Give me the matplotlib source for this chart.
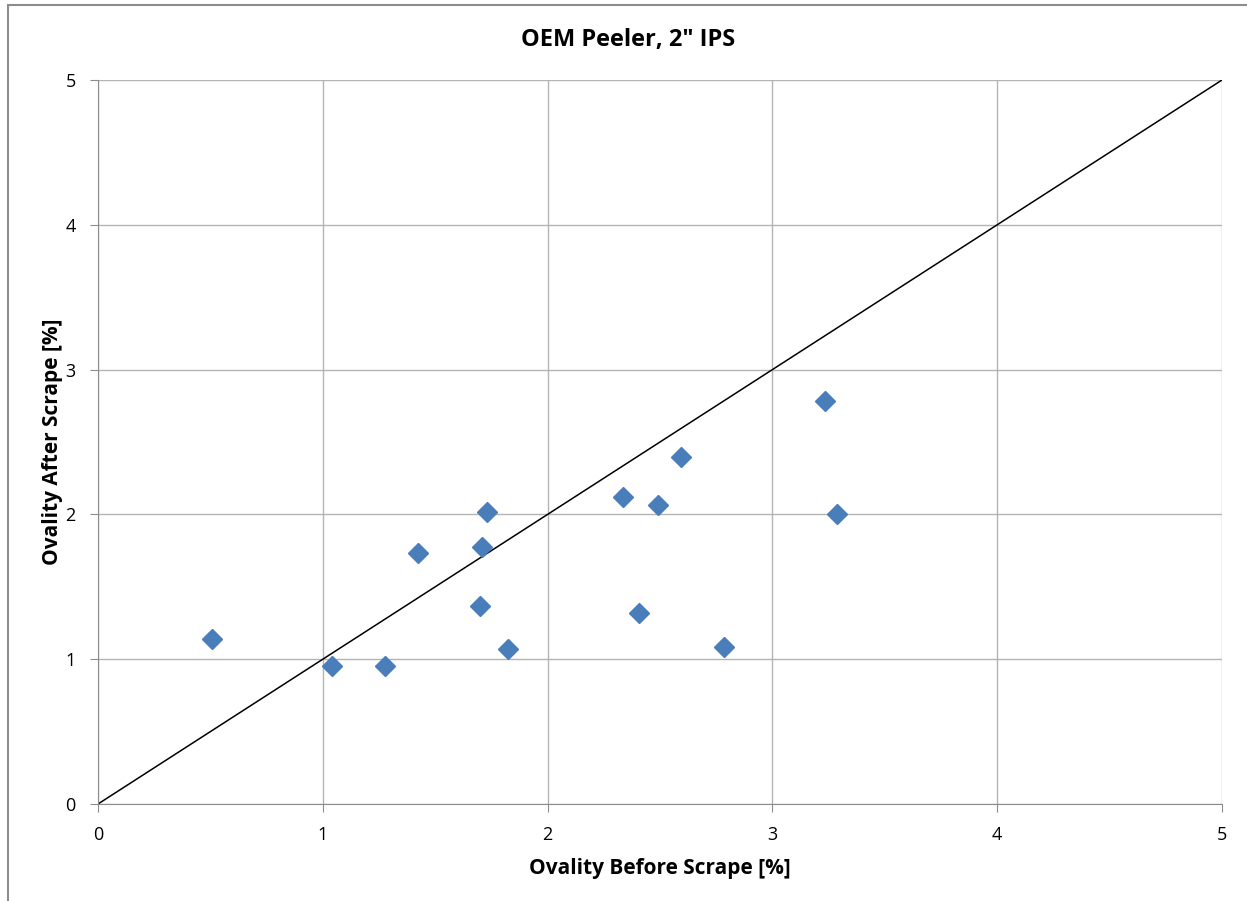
import matplotlib.pyplot as plt
from matplotlib.patches import Rectangle

plt.rcParams['font.family'] = ['Open Sans', 'DejaVu Sans']

before = [0.506, 1.040, 1.277, 1.422, 1.699, 1.707, 1.729, 1.825,
          2.334, 2.492, 2.593, 2.408, 2.785, 3.235, 3.289]
after = [1.140, 0.950, 0.950, 1.730, 1.370, 1.774, 2.016, 1.071,
         2.122, 2.067, 2.399, 1.320, 1.084, 2.784, 2.000]
line_x = [0, 5]
line_y = [0, 5]
ticks = [0, 1, 2, 3, 4, 5]

fig = plt.figure(figsize=(12.47, 9.01), dpi=100)
ax = fig.add_axes([98/1247, 97/901, 1124/1247, 724/901])

# chart border like the spreadsheet export
fig.patches.append(Rectangle((8/1247, -0.1), 1.2, (901-5)/901 + 0.1, transform=fig.transFigure,
                             fill=False, edgecolor='#8c8c8c', linewidth=1.5))

ax.plot(line_x, line_y, color='black', linewidth=1.1, zorder=2)
ax.plot(before, after, linestyle='none', marker='D', markersize=10,
        color='#4a7ebb', markeredgecolor='#4a7ebb', zorder=3)

ax.set_xlim(0, 5)
ax.set_ylim(0, 5)
ax.set_xticks(ticks)
ax.set_yticks(ticks)
ax.grid(True, color='#b4b4b4', linewidth=1.0, zorder=0)
ax.set_axisbelow(True)
for s in ['top', 'right']:
    ax.spines[s].set_visible(False)
for s in ['left', 'bottom']:
    ax.spines[s].set_color('#8c8c8c')
ax.tick_params(direction='out', length=6, color='#8c8c8c', labelsize=13, pad=10)

fig.suptitle('OEM Peeler, 2" IPS', fontsize=17, fontweight='bold', x=628/1247, y=1-40/901, va='center')
ax.set_xlabel('Ovality Before Scrape [%]', fontsize=15, fontweight='bold', labelpad=10)
ax.set_ylabel('Ovality After Scrape [%]', fontsize=15, fontweight='bold', labelpad=2)

fig.savefig('out.png', dpi=100)
